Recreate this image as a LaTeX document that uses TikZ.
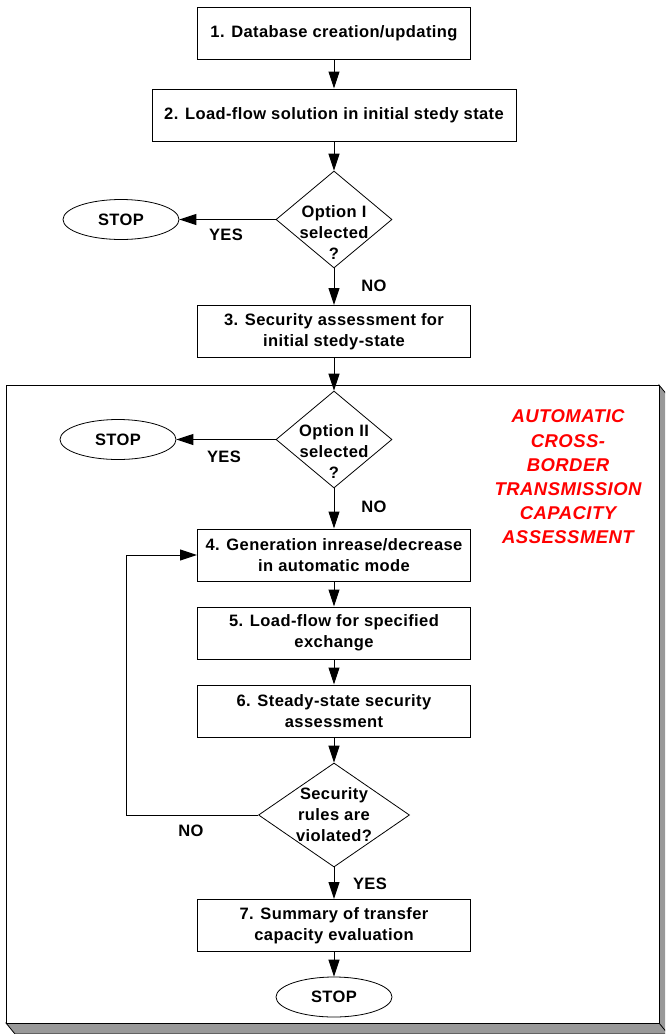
\documentclass[tikz,border=0pt]{standalone}
\usepackage{fontspec}
\setmainfont{Liberation Sans}[LetterSpace=2.5]
\usetikzlibrary{shapes.geometric,arrows.meta}
\definecolor{shadowgray}{HTML}{999999}
\definecolor{autored}{HTML}{FF0000}
\begin{document}
\begin{tikzpicture}[x=1pt,y=-1pt,
  every node/.style={font=\fontsize{16.5}{21}\selectfont\bfseries, inner sep=0pt},
  stepbox/.style={draw, line width=1pt, align=center, minimum width=273pt, minimum height=52pt},
  decision/.style={draw, diamond, line width=0.8pt, minimum width=116pt, minimum height=97pt},
  terminal/.style={draw, ellipse, line width=0.8pt, minimum width=116pt, minimum height=40pt},
  dtext/.style={align=center},
  lbl/.style={},
  arr/.style={line width=1pt, -{Triangle[length=17pt,width=11pt]}}
]
\useasboundingbox (0,0) rectangle (665,1034);
% frame with 3D shadow
\begin{scope}
\clip (0,0) rectangle (665,1034);
\filldraw[fill=shadowgray, draw=black, line width=0.8pt]
  (6,1023) -- (659,1023) -- (659,385) -- (668,396) -- (668,1034) -- (15,1034) -- cycle;
\draw[line width=0.8pt] (659,1023) -- (668,1034);
\end{scope}
\draw[line width=1pt, fill=white] (6,385) rectangle (659,1023);

% nodes
\node[stepbox] (b1) at (334,33) {1. Database creation/updating};
\node[stepbox, minimum width=364pt] (b2) at (334,115) {2. Load-flow solution in initial stedy state};
\node[decision] (d1) at (334,219.5) {};
\node[dtext] (t1) at (334,233) {Option I\\selected\\?};
\node[terminal] (s1) at (121,219.5) {STOP};
\node[stepbox] (b3) at (334,331.5) {3. Security assessment for\\initial stedy-state};
\node[decision] (d2) at (334,439.5) {};
\node[dtext] (t2) at (334,452) {Option II\\selected\\?};
\node[terminal] (s2) at (118,439.5) {STOP};
\node[stepbox] (b4) at (334,555) {4. Generation inrease/decrease\\in automatic mode};
\node[stepbox] (b5) at (334,633) {5. Load-flow for specified\\exchange};
\node[stepbox] (b6) at (334,711) {6. Steady-state security\\assessment};
\node[decision, minimum width=151pt, minimum height=104pt] (d3) at (334,815) {};
\node[dtext] (t3) at (334,815) {Security\\rules are\\violated?};
\node[stepbox] (b7) at (334,925.5) {7. Summary of transfer\\capacity evaluation};
\node[terminal] (s3) at (334,997) {STOP};
\node[text=autored, align=center, font=\fontsize{18.5}{24.2}\selectfont\bfseries\itshape] (title) at (568,477)
  {AUTOMATIC\\CROSS-\\BORDER\\TRANSMISSION\\CAPACITY\\ASSESSMENT};

% labels
\node[lbl] (y1) at (226,235) {YES};
\node[lbl] (n1) at (374,286) {NO};
\node[lbl] (y2) at (224,457) {YES};
\node[lbl] (n2) at (374,507) {NO};
\node[lbl] (n3) at (191,831) {NO};
\node[lbl] (y3) at (370,884) {YES};

% connectors
\draw[arr] (b1.south) -- (b2.north);
\draw[arr] (b2.south) -- (d1.north);
\draw[arr] (d1.west) -- (s1.east);
\draw[arr] (d1.south) -- (b3.north);
\draw[arr] (b3.south) -- (d2.north);
\draw[arr] (d2.west) -- (s2.east);
\draw[arr] (d2.south) -- (b4.north);
\draw[arr] (b4.south) -- (b5.north);
\draw[arr] (b5.south) -- (b6.north);
\draw[arr] (b6.south) -- (d3.north);
\coordinate (lp) at (126,815);
\draw[arr] (d3.west) -- (lp) |- (b4.west);
\draw[arr] (d3.south) -- (b7.north);
\draw[arr] (b7.south) -- (s3.north);
\end{tikzpicture}
\end{document}
